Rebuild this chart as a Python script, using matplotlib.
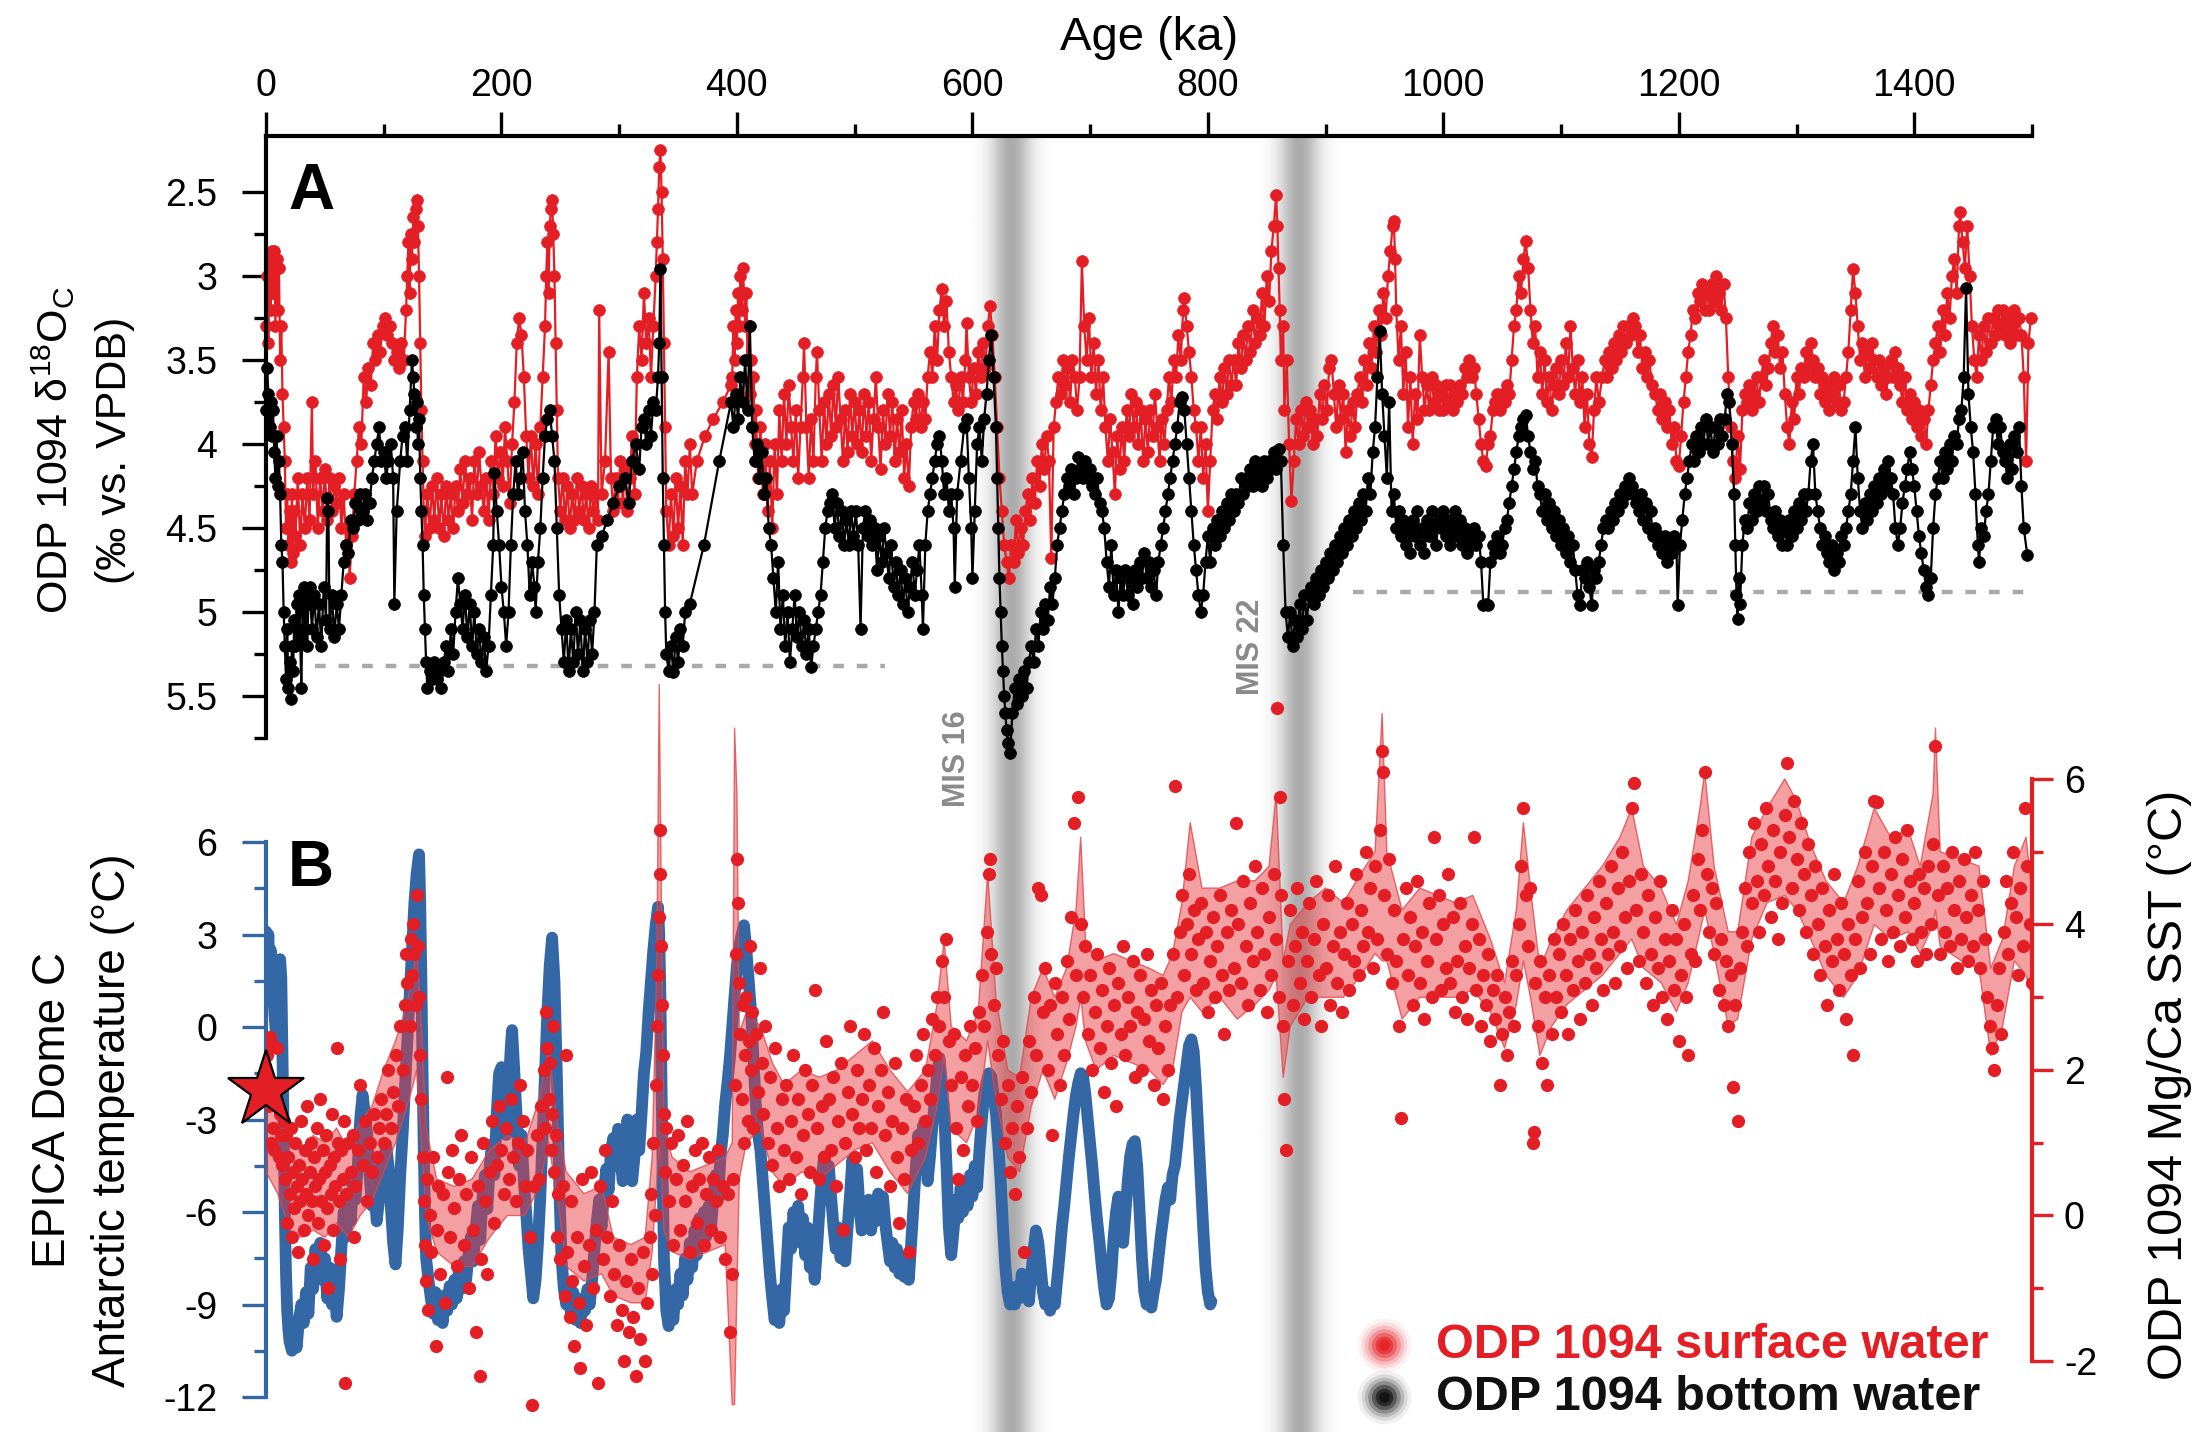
import matplotlib
matplotlib.use('Agg')
import matplotlib.pyplot as plt
import numpy as np

plt.rcParams['font.family'] = ['Liberation Sans', 'DejaVu Sans']
plt.rcParams['axes.unicode_minus'] = False
plt.rcParams['mathtext.fontset'] = 'custom'
plt.rcParams['mathtext.rm'] = 'Liberation Sans'
plt.rcParams['mathtext.it'] = 'Liberation Sans:italic'

# ---------------- DATA ----------------
# Panel A: ODP 1094 planktic (surface) d18O  (age ka, permil)
SURFACE_D18O = [
 (0,3.3),(1,3.0),(2,3.4),(3,2.9),(4,3.2),(5,2.85),(6,3.1),(7,2.85),(8,3.3),(9,2.9),(10,3.2),(11,2.95),(12,3.5),(13,3.3),(14,3.7),(15,3.9),
 (16,4.1),(17,4.5),(18,4.3),(19,4.6),(20,4.4),(21,4.7),(22,4.3),(23,4.65),(24,4.4),(25,4.55),
 (27,4.2),(29,4.6),(31,4.3),(33,4.5),(35,4.2),(37,4.45),(39,3.75),(40,4.3),(42,4.1),(44,4.5),(46,4.2),(48,4.4),(50,4.15),(52,4.45),(54,4.2),(56,4.4),(58,4.25),(60,4.35),(62,4.2),(64,4.5),(66,4.3),(68,4.6),(70,4.5),(71,4.8),
 (73,4.55),(75,4.3),(77,4.1),(79,3.9),(81,4.0),(83,3.6),(85,3.75),(87,3.55),(89,3.65),(91,3.4),(93,3.5),(95,3.35),(97,3.45),(99,3.3),(101,3.25),(103,3.35),(105,3.3),(107,3.4),(109,3.5),(111,3.45),(113,3.55),
 (115,3.4),(117,3.5),(119,3.2),(120,3.0),(121,2.8),(122,3.1),(123,2.75),(124,2.9),(125,2.65),(126,2.8),(127,2.6),(128,2.55),(129,2.7),(130,3.0),(131,3.4),(132,3.8),(133,4.1),(134,4.4),(135,4.55),
 (137,4.3),(139,4.5),(141,4.25),(143,4.45),(145,4.2),(147,4.5),(149,4.3),(151,4.55),(153,4.25),(155,4.45),(157,4.3),(159,4.5),(161,4.25),(163,4.4),(165,4.15),(167,4.35),(169,4.1),(171,4.3),(173,4.2),(175,4.45),(177,4.1),(179,4.3),(181,4.05),(183,4.25),(185,4.4),(187,4.2),(189,4.45),
 (191,4.1),(193,4.3),(195,3.95),(197,4.2),(199,4.05),(201,4.25),(203,3.9),(205,4.1),(207,4.35),(209,4.0),(211,3.75),(213,3.4),(215,3.25),(217,3.35),(219,3.6),
 (221,3.95),(223,4.2),(225,3.95),(227,4.25),(229,4.0),(231,4.3),(233,3.9),(235,3.6),(237,3.3),(238,3.0),(239,2.8),(240,3.1),(241,2.7),(242,2.6),(243,2.55),(244,2.75),(245,3.0),(246,3.4),(247,3.8),(248,4.2),
 (250,4.4),(252,4.2),(254,4.45),(256,4.25),(258,4.5),(260,4.3),(262,4.45),(264,4.2),(266,4.4),(268,4.25),(270,4.45),(272,4.3),(274,4.5),(276,4.25),(278,4.4),(280,4.3),(282,4.45),(283,3.2),(285,4.3),(288,4.1),(291,3.45),(293,4.2),
 (295,4.4),(297,4.2),(299,4.35),(301,4.1),(303,4.35),(305,4.15),(307,4.4),(309,4.2),(311,3.95),(313,4.3),(315,3.6),(317,3.3),(319,3.5),(321,3.1),(323,3.4),(325,3.25),(327,3.6),(329,3.3),(331,3.0),(332,2.8),
 (333,2.6),(334,2.35),(335,2.25),(336,2.5),(337,2.9),(338,3.4),(339,3.9),(340,4.4),(342,4.6),(344,4.3),(346,4.55),(348,4.2),(350,4.5),(352,4.25),(354,4.6),(356,4.1),(358,4.3),(360,4.0),(362,4.3),
 (366,4.1),(373,3.95),(380,3.85),(388,3.75),(395,3.65),
 (396,3.6),(397,3.3),(398,3.5),(399,3.2),(400,3.4),(401,3.1),(402,3.3),(403,3.0),(404,3.2),(405,2.95),(406,3.1),(407,3.3),(408,3.1),(409,3.5),(410,3.3),(411,3.7),(412,3.5),(413,3.9),(414,3.6),(415,4.0),(416,3.8),(418,4.2),(420,3.9),
 (422,4.3),(424,4.0),(426,4.4),(428,4.1),(430,4.5),(432,4.0),(434,4.3),(436,3.8),(438,4.1),(440,3.7),(442,4.0),(444,3.65),(446,3.9),(448,4.1),(450,3.8),(452,4.2),(454,3.9),(456,3.6),(457,3.4),(459,3.9),(461,4.2),(463,3.85),(465,4.1),(467,3.6),(468,3.45),(470,3.8),
 (472,4.1),(474,3.75),(476,4.0),(478,3.7),(480,3.95),(482,3.65),(484,3.9),(486,3.6),(488,3.85),(490,4.1),(492,3.8),(494,4.05),(496,3.7),(498,3.95),(500,3.75),(502,4.0),
 (504,3.8),(506,4.05),(508,3.7),(510,3.95),(512,3.75),(514,4.1),(516,3.85),(518,3.6),(520,3.9),(522,4.15),(524,3.8),(526,4.0),(528,3.7),(530,3.95),(532,3.75),(534,4.1),(536,3.85),(538,4.05),(540,3.8),(542,4.2),(544,4.0),(546,4.25),
 (548,3.9),(550,3.75),(552,3.85),(554,3.7),(556,3.9),(558,3.75),(560,3.85),
 (562,3.6),(564,3.45),(566,3.6),(568,3.3),(570,3.5),(572,3.2),(574,3.08),(576,3.3),(578,3.15),(580,3.45),(582,3.6),(584,3.75),
 (586,3.65),(588,3.8),(590,3.6),(592,3.75),(594,3.5),(595,3.28),(597,3.6),(599,3.75),
 (601,3.55),(603,3.7),(605,3.45),(607,3.6),(609,3.4),(611,3.55),(613,3.3),(615,3.18),(617,3.35),(619,3.6),
 (621,3.9),(623,4.2),(625,4.4),(627,4.6),(629,4.7),(631,4.8),(633,4.6),(635,4.7),(637,4.45),(639,4.65),(641,4.5),(643,4.6),(645,4.4),
 (647,4.3),(649,4.45),(651,4.2),(653,4.35),(655,4.1),(657,4.25),(659,4.0),(661,4.15),(663,3.95),(665,4.1),(667,4.68),(669,3.9),(671,3.75),
 (673,3.6),(675,3.7),(677,3.5),(679,3.65),(681,3.55),(683,3.75),(685,3.5),(687,3.6),(689,3.8),(691,3.6),(693,2.91),
 (695,3.3),(697,3.5),(699,3.25),(701,3.6),(703,3.4),(705,3.7),(707,3.5),(709,3.8),(711,3.6),
 (713,3.9),(715,4.1),(717,3.85),(719,4.05),(721,4.3),(723,3.95),(725,4.15),(727,3.9),(729,4.1),
 (731,3.8),(733,3.95),(735,3.7),(737,3.9),(739,3.75),(741,4.0),(743,3.8),(745,4.1),(747,3.85),(749,4.05),(751,3.8),(753,3.95),(755,3.7),(757,3.9),(759,4.1),(761,3.85),(763,4.0),(765,3.8),
 (767,3.6),(769,3.75),(771,3.5),(773,3.6),(775,3.35),(777,3.5),(779,3.2),(780,3.13),(782,3.3),(784,3.45),(786,3.6),(788,3.8),
 (790,3.9),(792,4.1),(794,3.9),(796,4.2),(798,4.0),(800,4.4),(802,4.1),
 (804,3.8),(806,3.7),(808,3.85),(810,3.6),(812,3.75),(814,3.55),(816,3.7),(818,3.5),(820,3.65),
 (822,3.5),(824,3.65),(826,3.4),(828,3.55),(830,3.35),(832,3.5),(834,3.3),(836,3.45),(838,3.2),(840,3.4),(842,3.25),(844,3.35),(846,3.1),(848,3.3),(850,3.0),(852,3.15),(854,2.85),(856,2.7),(858,2.52),
 (859,2.7),(860,2.95),(861,3.2),(862,3.5),(864,3.3),(865,3.8),(867,3.5),(869,4.0),(871,4.34),(873,4.1),
 (875,3.85),(877,4.0),(879,3.8),(881,3.95),(883,3.75),(885,3.9),(887,3.8),(889,4.0),(891,3.85),(893,3.95),(895,3.7),(897,3.85),(899,3.65),(901,3.8),(903,3.55),(905,3.5),
 (907,3.7),(909,3.9),(911,3.65),(913,3.85),(915,3.7),(917,4.05),(919,3.8),(921,3.95),(923,3.75),(925,3.9),(927,3.7),
 (929,3.6),(931,3.75),(933,3.5),(935,3.65),(937,3.4),(939,3.55),(941,3.3),(943,3.45),(945,3.2),(947,3.35),(949,3.1),(951,3.25),(953,3.0),(955,2.85),(957,2.7),(958,2.67),
 (959,2.9),(960,3.2),(962,3.5),(964,3.3),(966,3.7),(968,3.45),(970,3.9),(972,3.6),(974,4.0),(976,3.7),(978,3.85),(980,3.35),(982,3.6),(984,3.8),
 (986,3.65),(988,3.8),(990,3.6),(992,3.75),(994,3.65),(996,3.8),(998,3.7),(1000,3.8),(1002,3.65),(1004,3.75),(1006,3.65),(1008,3.8),(1010,3.7),(1012,3.75),(1014,3.65),(1016,3.7),
 (1018,3.55),(1020,3.6),(1022,3.5),(1024,3.6),(1026,3.55),(1028,3.7),(1030,3.85),(1032,4.0),(1034,4.1),(1036,4.13),(1038,4.0),(1040,3.95),(1042,3.8),
 (1044,3.75),(1046,3.7),(1048,3.8),(1050,3.7),(1052,3.75),(1054,3.65),(1056,3.7),(1058,3.5),(1060,3.3),(1062,3.2),(1064,3.0),(1066,3.1),(1068,2.9),(1070,2.79),(1072,2.95),(1074,3.2),
 (1076,3.4),(1078,3.3),(1080,3.6),(1082,3.45),(1084,3.7),(1086,3.5),(1088,3.75),(1090,3.6),(1092,3.8),(1094,3.65),
 (1096,3.55),(1098,3.7),(1100,3.5),(1102,3.65),(1104,3.4),(1106,3.6),(1108,3.3),(1110,3.55),(1112,3.7),(1114,3.5),(1116,3.75),(1118,3.6),(1120,3.9),(1122,3.7),(1124,4.0),(1126,4.08),(1128,3.8),(1130,3.6),(1132,3.75),
 (1135,3.6),(1137,3.5),(1139,3.6),(1141,3.45),(1143,3.55),(1145,3.4),(1147,3.5),(1149,3.35),(1151,3.45),(1153,3.3),(1155,3.4),(1157,3.3),(1159,3.35),(1161,3.25),(1163,3.3),(1165,3.45),(1167,3.35),(1169,3.55),(1171,3.45),(1173,3.6),(1175,3.5),(1177,3.65),
 (1180,3.7),(1182,3.8),(1184,3.7),(1186,3.85),(1188,3.75),(1190,3.9),(1192,3.8),(1194,4.0),(1196,3.9),(1198,4.1),(1200,4.13),(1202,3.95),(1204,3.75),
 (1206,3.6),(1208,3.45),(1210,3.35),(1212,3.2),(1214,3.25),(1216,3.1),(1218,3.15),(1220,3.05),(1222,3.2),(1224,3.1),(1226,3.2),(1228,3.05),(1230,3.15),(1232,3.0),(1234,3.1),(1236,3.2),(1238,3.05),(1240,3.25),(1242,3.6),
 (1244,3.9),(1246,4.1),(1248,4.2),(1250,3.95),(1252,4.15),(1254,3.8),(1256,3.7),
 (1258,3.75),(1260,3.65),(1262,3.8),(1264,3.7),(1266,3.6),(1268,3.75),(1270,3.6),(1272,3.5),(1274,3.65),(1276,3.55),(1278,3.4),(1280,3.3),(1282,3.45),(1284,3.35),(1286,3.55),(1288,3.45),(1290,3.7),(1292,3.9),(1294,4.0),(1296,3.75),(1298,3.85),
 (1300,3.6),(1302,3.7),(1304,3.55),(1306,3.6),(1308,3.45),(1310,3.55),(1312,3.4),(1314,3.5),(1316,3.6),(1318,3.55),(1320,3.7),(1322,3.6),(1324,3.75),(1326,3.65),(1328,3.8),(1330,3.7),(1332,3.6),(1334,3.75),(1336,3.65),(1338,3.8),(1340,3.75),(1342,3.6),(1344,3.45),(1346,3.2),(1348,2.96),
 (1350,3.1),(1352,3.3),(1354,3.5),(1356,3.4),(1358,3.6),(1360,3.45),(1362,3.55),(1364,3.4),(1366,3.5),(1368,3.6),(1370,3.5),(1372,3.65),(1374,3.55),(1376,3.7),(1378,3.6),
 (1380,3.5),(1382,3.6),(1384,3.45),(1386,3.55),(1388,3.65),(1390,3.75),(1392,3.6),(1394,3.8),(1396,3.7),(1398,3.85),(1400,3.75),(1402,3.9),(1404,3.8),(1406,3.95),(1408,3.85),(1410,4.0),(1412,3.8),(1414,3.65),(1416,3.5),
 (1418,3.4),(1420,3.3),(1422,3.45),(1424,3.2),(1426,3.35),(1428,3.1),(1430,3.25),(1432,3.0),(1434,2.9),(1436,3.1),(1438,2.7),(1439,2.62),(1441,2.8),(1443,2.95),(1445,2.7),(1447,3.0),
 (1449,3.3),(1451,3.5),(1453,3.6),(1455,3.35),(1457,3.5),(1459,3.3),(1461,3.45),(1463,3.25),(1465,3.4),(1467,3.25),(1469,3.35),(1471,3.2),(1473,3.3),(1475,3.2),(1477,3.35),(1479,3.25),(1481,3.4),(1483,3.3),(1485,3.2),(1487,3.35),(1489,3.25),(1491,3.35),(1493,3.6),(1495,4.1),(1497,3.4),(1499,3.25),
]

# Panel A: ODP 1094 benthic (bottom water) d18O
BOTTOM_D18O = [
 (0,3.8),(1,3.55),(2,3.7),(3,3.9),(4,3.75),(5,3.95),(6,3.8),(7,4.05),
 (8,4.2),(9,3.95),(10,4.25),(11,4.1),(12,4.3),(13,4.6),
 (14,4.7),(15,5.0),(16,5.2),(17,5.4),(18,5.1),(19,5.45),(20,5.3),(21,5.52),(22,5.2),(23,5.35),(24,5.05),
 (25,5.2),(26,4.95),(27,5.1),(28,4.9),(29,5.15),(30,5.45),(31,5.0),(32,4.85),(33,5.1),(34,4.9),(35,5.2),(36,4.95),
 (37,4.85),(39,5.1),(41,4.9),(43,5.15),(45,4.95),(47,5.2),(49,4.85),(51,5.05),(52,4.32),(53,4.4),(54,5.1),(56,4.9),(58,5.15),(60,4.95),(62,5.1),(64,4.9),(66,4.7),
 (68,4.6),(70,4.65),(72,4.45),(74,4.5),(76,4.35),(78,4.45),(80,4.3),(82,4.4),(84,4.3),(86,4.45),(88,4.35),(90,4.2),(92,4.1),(94,4.0),(96,3.9),
 (98,4.1),(100,4.05),(102,4.2),(104,4.1),(106,4.0),(108,4.2),(109,4.95),(111,4.4),
 (114,4.1),(116,3.95),(118,3.9),(120,4.1),(122,3.8),(124,3.5),(125,3.6),(126,3.7),(127,3.9),(128,3.75),(129,4.0),(130,3.85),(131,4.2),(132,4.4),
 (133,4.6),(134,4.9),(135,5.1),(136,5.3),(137,5.45),(139,5.35),(141,5.4),(143,5.3),(145,5.4),(147,5.35),(149,5.45),(151,5.3),
 (153,5.2),(155,5.35),(157,5.1),(159,5.25),(161,5.0),(163,4.8),(165,4.95),(167,5.1),(169,4.9),(171,5.15),(173,4.95),(175,5.2),(177,5.0),(179,5.25),(181,5.1),(183,5.3),(185,5.15),(187,5.35),(189,5.2),
 (191,4.9),(193,4.6),(194,4.17),(196,4.4),(198,4.6),(200,4.85),(202,5.0),(204,5.2),(206,5.0),
 (208,4.6),(210,4.3),(212,4.1),(214,4.3),(216,4.2),(218,4.05),(220,4.4),(222,4.6),
 (224,4.9),(226,4.7),(228,4.85),(229,5.0),(231,4.7),(233,4.5),(235,4.2),
 (237,3.95),(239,3.85),(241,3.8),(243,3.95),(245,4.1),(247,4.5),
 (249,4.9),(251,5.1),(253,5.3),(255,5.05),(257,5.35),(259,5.1),(261,5.3),(263,5.0),(265,5.25),(267,5.05),(269,5.35),(271,5.1),(273,5.3),(275,5.05),(277,5.25),(279,5.0),
 (281,4.6),(285,4.55),(290,4.45),(295,4.35),(300,4.25),(305,4.2),(308,4.35),(311,4.1),(314,4.0),(317,4.15),
 (319,3.9),(321,3.85),(323,4.0),(325,3.8),(327,3.95),(329,3.75),(331,3.8),(333,3.6),(334,3.4),(335,2.96),(336,3.6),
 (337,4.2),(338,4.6),(339,5.0),(340,5.25),(342,5.35),(344,5.2),(346,5.36),(348,5.15),(350,5.3),(352,5.1),(354,5.2),(356,5.0),
 (360,4.95),(372,4.6),(385,4.1),(395,3.75),
 (397,3.9),(399,3.7),(401,3.85),(403,3.6),(405,3.75),(407,3.5),(409,3.8),(411,3.3),(413,3.9),
 (415,4.1),(417,4.0),(419,4.2),(421,4.05),(423,4.3),(425,4.2),(427,4.5),
 (429,4.6),(431,4.8),(433,5.0),(435,4.7),(437,5.1),(439,4.9),(441,5.2),(443,5.0),(445,5.3),(447,5.1),
 (449,4.9),(451,5.15),(453,5.0),(455,5.2),(457,5.05),(459,5.25),(461,5.1),(463,5.33),(465,5.2),(467,5.1),(469,5.0),(471,4.9),(473,4.7),(475,4.5),(477,4.4),(479,4.35),
 (481,4.3),(483,4.5),(485,4.35),(487,4.55),(489,4.4),(491,4.6),(493,4.45),(495,4.6),(497,4.4),(499,4.55),(501,4.4),(503,4.6),(505,5.1),(507,4.5),(509,4.4),(511,4.55),
 (513,4.45),(515,4.6),(517,4.5),(519,4.75),(521,4.55),(523,4.7),(525,4.5),(527,4.65),(529,4.8),(531,4.6),(533,4.85),(535,4.7),(537,4.9),(539,4.75),(541,4.95),(543,4.8),(545,5.0),(547,4.85),(549,4.7),(551,4.9),(553,4.75),(555,4.6),(557,4.9),(558,5.1),
 (560,4.6),(562,4.4),(564,4.3),(566,4.2),(568,4.1),(570,4.0),(572,3.95),(574,4.1),(576,4.3),(578,4.2),(580,4.4),(582,4.3),(584,4.5),(585,4.85),
 (587,4.3),(590,4.1),(593,3.9),(595,3.85),(597,4.2),(599,4.5),(600,4.8),(602,4.4),(604,4.0),(606,3.9),(608,4.1),(610,3.85),(612,3.7),(614,3.5),(616,3.35),(618,3.6),
 (620,3.9),(621,4.2),(622,4.5),(623,4.8),(624,5.0),(625,5.2),(626,5.35),(627,5.5),(628,5.6),(629,5.7),(630,5.78),(632,5.84),
 (634,5.6),(636,5.45),(638,5.55),(640,5.4),(642,5.5),(644,5.35),(646,5.45),(648,5.3),
 (650,5.2),(652,5.3),(654,5.1),(656,5.2),(658,5.0),(660,5.1),(662,4.95),(664,5.05),(666,4.85),(668,4.95),(670,4.8),
 (672,4.6),(674,4.5),(676,4.4),(678,4.3),(680,4.2),(682,4.25),(684,4.15),(686,4.3),(688,4.2),(690,4.08),
 (692,4.15),(694,4.2),(696,4.1),(698,4.2),(700,4.15),(702,4.25),(704,4.3),(706,4.2),(708,4.35),(710,4.4),
 (712,4.5),(714,4.7),(716,4.85),(718,4.6),(720,4.9),(722,4.75),(724,5.0),(726,4.8),(728,4.9),(730,4.75),(732,4.9),(734,4.8),(736,4.95),(738,4.75),(740,4.85),(742,4.7),(744,4.8),(746,4.65),(748,4.8),(750,4.7),(752,4.85),(754,4.75),(756,4.9),(758,4.7),(760,4.6),(762,4.5),
 (764,4.4),(766,4.3),(768,4.2),(770,4.1),(772,4.0),(774,3.9),(776,3.75),(778,3.72),(780,3.8),(782,4.0),(784,4.2),(786,4.4),(788,4.6),(790,4.75),(792,4.9),(794,5.0),(796,4.9),
 (798,4.7),(800,4.55),(802,4.7),(804,4.5),(806,4.6),(808,4.45),(810,4.55),(812,4.4),(814,4.5),(816,4.35),(818,4.45),(820,4.3),
 (822,4.4),(824,4.3),(826,4.35),(828,4.2),(830,4.3),(832,4.2),(834,4.25),(836,4.15),(838,4.25),(840,4.1),(842,4.2),(844,4.15),(846,4.25),(848,4.1),(850,4.2),(852,4.1),(854,4.15),(856,4.05),(858,4.15),(860,4.03),(862,4.1),(864,4.6),(866,5.0),
 (868,5.15),(870,5.0),(872,5.2),(874,5.05),(876,5.15),(878,4.95),(880,5.1),(882,4.9),(884,5.05),(886,4.9),
 (888,4.85),(890,4.95),(892,4.8),(894,4.9),(896,4.75),(898,4.85),(900,4.7),(902,4.8),(904,4.65),(906,4.75),(908,4.6),(910,4.7),(912,4.55),(914,4.65),(916,4.5),(918,4.6),
 (920,4.45),(922,4.55),(924,4.4),(926,4.5),(928,4.35),(930,4.45),(932,4.3),(934,4.4),(936,4.2),(938,4.3),(940,4.05),(942,3.9),(944,3.6),(946,3.33),(948,3.7),(950,3.95),(952,4.2),(954,3.75),(956,4.4),(958,4.3),(960,4.5),(962,4.4),
 (964,4.55),(966,4.45),(968,4.6),(970,4.5),(972,4.65),(974,4.45),(976,4.55),(978,4.4),(980,4.6),(982,4.5),(984,4.65),(986,4.45),(988,4.55),(990,4.4),(992,4.5),(994,4.6),(996,4.45),
 (998,4.5),(1000,4.4),(1002,4.55),(1004,4.45),(1006,4.6),(1008,4.5),(1010,4.4),(1012,4.55),(1014,4.45),(1016,4.6),(1018,4.5),(1020,4.65),(1022,4.55),(1024,4.6),(1026,4.5),(1028,4.6),(1030,4.55),(1032,4.7),
 (1034,4.96),(1036,4.95),(1038,4.96),(1040,4.7),(1042,4.6),(1044,4.65),(1046,4.55),(1048,4.65),(1050,4.6),(1052,4.5),(1054,4.45),
 (1056,4.35),(1058,4.25),(1060,4.15),(1062,4.05),(1064,3.95),(1066,3.9),(1068,3.85),(1070,3.83),(1072,3.95),(1074,4.05),(1076,4.15),(1078,4.1),(1080,4.25),
 (1082,4.3),(1084,4.4),(1086,4.3),(1088,4.45),(1090,4.35),(1092,4.5),(1094,4.4),(1096,4.55),(1098,4.45),(1100,4.6),(1102,4.5),(1104,4.65),(1106,4.55),(1108,4.7),(1110,4.6),(1112,4.75),(1114,4.9),(1116,4.96),
 (1118,4.75),(1120,4.8),(1122,4.7),(1124,4.85),(1126,4.96),(1128,4.75),(1130,4.8),(1132,4.7),(1134,4.6),(1136,4.5),
 (1138,4.45),(1140,4.5),(1142,4.4),(1144,4.45),(1146,4.35),(1148,4.4),(1150,4.3),(1152,4.35),(1154,4.25),(1156,4.3),(1158,4.2),(1160,4.25),(1162,4.3),(1164,4.35),(1166,4.4),(1168,4.3),(1170,4.45),(1172,4.35),(1174,4.5),(1176,4.4),(1178,4.55),
 (1180,4.5),(1182,4.6),(1184,4.55),(1186,4.65),(1188,4.55),(1190,4.7),(1192,4.6),(1194,4.65),(1196,4.55),(1198,4.6),(1199,4.96),(1201,4.6),(1203,4.45),
 (1205,4.3),(1207,4.2),(1209,4.1),(1211,4.0),(1213,4.1),(1215,3.95),(1217,4.05),(1219,3.9),(1221,4.0),(1223,3.85),(1225,4.0),(1227,3.9),(1229,4.05),(1231,3.9),(1233,4.0),(1235,3.85),(1237,3.95),(1239,3.85),(1241,3.7),(1243,3.75),
 (1245,4.0),(1247,4.3),(1248,4.6),(1249,4.9),(1250,5.04),(1251,4.8),(1252,4.95),(1254,4.6),(1256,4.45),
 (1258,4.5),(1260,4.35),(1262,4.45),(1264,4.3),(1266,4.4),(1268,4.25),(1270,4.35),(1272,4.25),(1274,4.4),(1276,4.3),(1278,4.45),(1280,4.5),(1282,4.4),(1284,4.55),(1286,4.45),(1288,4.6),(1290,4.5),(1292,4.6),(1294,4.45),(1296,4.55),(1298,4.4),(1300,4.5),(1302,4.35),(1304,4.45),(1306,4.3),(1308,4.4),(1310,4.3),(1312,4.1),(1314,4.0),(1316,4.3),
 (1318,4.4),(1320,4.5),(1322,4.6),(1324,4.55),(1326,4.65),(1328,4.7),(1330,4.6),(1332,4.75),(1334,4.65),(1336,4.7),(1338,4.55),(1340,4.6),(1342,4.5),(1344,4.4),(1346,4.3),
 (1348,4.1),(1350,3.9),(1352,4.2),(1354,4.4),(1356,4.5),(1358,4.35),(1360,4.45),(1362,4.3),(1364,4.4),(1366,4.25),(1368,4.35),(1370,4.2),(1372,4.3),(1374,4.15),(1376,4.25),(1378,4.1),(1380,4.2),(1382,4.3),(1384,4.5),(1386,4.6),
 (1388,4.5),(1390,4.35),(1392,4.25),(1394,4.15),(1396,4.05),(1398,4.15),(1400,4.25),(1402,4.4),(1404,4.55),(1406,4.65),(1408,4.75),(1410,4.85),(1412,4.9),(1414,4.8),(1416,4.5),
 (1418,4.3),(1420,4.2),(1422,4.1),(1424,4.2),(1426,4.05),(1428,4.15),(1430,4.0),(1432,4.1),(1434,3.95),(1436,4.0),(1438,3.85),(1440,3.8),(1442,3.6),(1444,3.07),(1446,3.7),(1448,3.9),(1450,4.05),(1452,4.3),
 (1454,4.6),(1455,4.7),(1457,4.5),(1459,4.55),(1461,4.4),(1463,4.3),(1465,4.1),(1467,3.9),(1469,3.85),(1471,4.0),(1473,3.9),(1475,4.05),(1477,4.1),(1479,4.2),(1481,4.0),(1483,4.15),(1485,3.95),(1487,4.05),(1489,3.9),(1491,4.25),(1493,4.5),(1496,4.66),
]

# Panel B: EPICA Dome C Antarctic temperature anomaly (deg C)
EPICA_T = [
 (0,3.1),(1,2.2),(2,3.0),(3,1.5),(4,2.5),(5,0.8),(6,1.8),(7,0.5),(8,0.0),(9,-0.5),(10,0.4),(11,1.5),(12,2.2),(13,1.6),(14,-1.0),(15,-3.5),(16,-6.0),(17,-8.0),(18,-9.2),(19,-9.8),(20,-10.2),(22,-10.5),(24,-9.9),(26,-10.4),(28,-9.5),(30,-9.0),(32,-9.6),(34,-8.6),(36,-9.3),(38,-7.8),(40,-8.5),(42,-7.2),(44,-8.0),(46,-7.0),(48,-8.2),(50,-7.5),(52,-8.8),(54,-7.8),(56,-9.0),(58,-8.3),(60,-9.4),(62,-8.5),(64,-7.2),(66,-6.0),(68,-6.8),(70,-5.6),(72,-6.3),(74,-5.0),(76,-5.6),(78,-4.5),(80,-3.0),(82,-2.2),(84,-2.8),(86,-3.5),(88,-4.8),(90,-5.8),(92,-5.2),(94,-6.3),(96,-5.6),(98,-4.2),(100,-4.8),(102,-3.8),(104,-4.5),(106,-5.8),(108,-7.0),(110,-7.7),(112,-6.5),(114,-4.8),(116,-3.5),(118,-2.0),(120,-0.5),(122,1.0),(124,2.5),(126,4.0),(128,5.0),(130,5.6),(131,4.0),(132,1.5),(133,-1.5),(134,-4.0),(135,-6.0),(136,-7.5),(138,-8.2),(140,-8.8),(142,-9.3),(144,-8.6),(146,-9.5),(148,-8.9),(150,-9.6),(152,-8.7),(154,-9.2),(156,-8.4),(158,-9.0),(160,-8.2),(162,-8.8),(164,-7.8),(166,-8.5),(168,-7.6),(170,-8.2),(172,-7.4),(174,-6.8),(176,-7.6),(178,-6.6),(180,-5.8),(182,-6.9),(184,-5.5),(186,-4.8),(188,-5.9),(190,-4.5),(192,-3.8),(194,-4.8),(196,-2.8),(198,-1.5),(200,-1.3),(202,-2.2),(204,-3.5),(206,-2.0),(208,-0.6),(209,-0.1),(211,-1.5),(213,-3.0),(215,-4.5),(217,-3.5),(219,-5.0),(221,-6.0),(223,-7.2),(225,-8.0),(227,-8.8),(229,-8.2),(231,-7.0),(233,-5.5),(235,-3.5),(237,-1.5),(239,0.5),(241,2.0),(243,2.9),(245,1.5),(247,-1.5),(249,-5.0),(251,-7.5),(253,-8.5),(255,-9.0),(257,-8.4),(259,-9.3),(261,-8.6),(263,-9.5),(265,-8.8),(267,-9.6),(269,-8.9),(271,-9.2),(273,-8.5),(275,-9.0),(277,-8.2),(279,-7.2),(281,-6.3),(283,-5.6),(285,-6.5),(287,-5.4),(289,-4.6),(291,-5.3),(293,-4.0),(295,-3.6),(297,-4.5),(299,-3.3),(301,-4.2),(303,-5.0),(305,-4.0),(307,-3.0),(309,-3.8),(311,-5.0),(313,-4.2),(315,-3.0),(317,-4.0),(319,-2.8),(321,-1.5),(323,-0.8),(325,0.5),(327,1.5),(329,2.5),(331,3.3),(333,3.9),(334,3.0),(335,1.0),(336,-2.0),(337,-5.0),(338,-7.5),(340,-9.2),(342,-9.7),(344,-8.8),(346,-9.5),(348,-8.5),(350,-9.0),(352,-8.0),(354,-8.7),(356,-7.5),(358,-8.2),(360,-7.0),(362,-7.8),(364,-6.6),(366,-7.4),(368,-6.2),(370,-7.0),(372,-6.0),(374,-6.8),(376,-5.8),(378,-6.5),(380,-5.5),(382,-4.8),(384,-5.6),(386,-4.2),(388,-3.5),(390,-2.5),(392,-1.8),(394,-1.0),(396,0.0),(398,1.0),(400,2.0),(402,2.6),(404,3.0),(406,3.3),(408,2.5),(410,1.5),(412,0.5),(414,-1.0),(416,-2.5),(418,-3.5),(420,-4.0),(422,-5.0),(424,-6.0),(426,-7.0),(428,-8.0),(430,-8.8),(432,-9.5),(434,-8.8),(436,-9.6),(438,-8.5),(440,-9.2),(442,-7.8),(444,-6.5),(446,-7.2),(448,-6.0),(450,-6.8),(452,-5.8),(454,-7.0),(456,-6.2),(458,-7.4),(460,-6.5),(462,-7.8),(464,-7.0),(466,-8.2),(468,-7.2),(470,-6.0),(472,-5.0),(474,-4.2),(476,-5.0),(478,-4.5),(480,-5.5),(482,-6.5),(484,-7.2),(486,-6.5),(488,-7.5),(490,-6.8),(492,-7.6),(494,-6.5),(496,-5.5),(498,-4.3),(500,-5.0),(502,-4.6),(504,-5.8),(506,-6.6),(508,-5.8),(510,-6.4),(512,-5.6),(514,-6.6),(516,-5.8),(518,-6.3),(520,-5.4),(522,-6.2),(524,-5.5),(526,-6.4),(528,-7.0),(530,-7.6),(532,-7.0),(534,-7.8),(536,-7.2),(538,-8.0),(540,-7.5),(542,-8.1),(544,-7.6),(546,-8.2),(548,-7.0),(550,-5.8),(552,-4.5),(554,-3.5),(556,-4.2),(558,-3.2),(560,-4.0),(562,-5.0),(564,-4.2),(566,-3.2),(568,-2.4),(570,-1.6),(572,-1.0),(574,-1.8),(576,-2.8),(578,-4.5),(580,-6.5),(582,-7.4),(584,-6.6),(586,-5.6),(588,-6.2),(590,-5.2),(592,-6.0),(594,-5.0),(596,-5.8),(598,-4.8),(600,-5.5),(602,-4.5),(604,-5.2),(606,-4.0),(608,-3.0),(610,-2.2),(612,-1.8),(614,-1.5),(616,-1.6),(618,-2.2),(620,-2.8),(622,-3.8),(624,-5.0),(626,-6.5),(628,-7.8),(630,-8.6),(632,-9.0),(634,-8.7),(636,-9.0),(638,-8.4),(640,-8.8),(642,-8.0),(644,-8.6),(646,-8.2),(648,-8.9),(650,-8.0),(652,-7.2),(654,-6.6),(656,-7.0),(658,-7.8),(660,-8.6),(662,-9.0),(664,-8.6),(666,-9.2),(668,-8.7),(670,-9.0),(672,-8.2),(674,-7.4),(676,-6.5),(678,-5.8),(680,-5.0),(682,-4.2),(684,-3.5),(686,-2.8),(688,-2.2),(690,-1.8),(692,-1.5),(694,-1.6),(696,-2.2),(698,-3.0),(700,-3.8),(702,-4.6),(704,-5.5),(706,-6.3),(708,-7.0),(710,-7.8),(712,-8.5),(714,-9.0),(716,-8.8),(718,-8.0),(720,-6.8),(722,-6.0),(724,-5.5),(726,-6.2),(728,-7.0),(730,-6.0),(732,-5.0),(734,-4.2),(736,-3.8),(738,-3.7),(740,-4.5),(742,-6.0),(744,-7.5),(746,-8.6),(748,-9.0),(750,-8.8),(752,-9.1),(754,-8.6),(756,-8.2),(758,-7.5),(760,-6.8),(762,-6.2),(764,-5.6),(766,-5.2),(768,-5.6),(770,-4.8),(772,-4.5),(774,-3.8),(776,-3.0),(778,-2.4),(780,-1.8),(782,-1.2),(784,-0.6),(786,-0.4),(788,-0.8),(790,-2.0),(792,-3.5),(794,-5.0),(796,-6.5),(798,-7.8),(800,-8.6),(802,-9.0),(803,-8.9),
]

# Panel B: ODP 1094 Mg/Ca SST (deg C), individual samples
SST_POINTS = [
 (1,2.2),(2,1.5),(3,2.45),(4,1.0),(5,2.35),(6,1.2),(7,0.9),(8,1.6),(9,2.3),(10,1.8),(11,0.8),(12,1.4),(13,1.1),(14,0.7),(15,1.3),
 (16,0.5),(17,1.1),(18,-0.1),(19,0.8),(20,0.3),(21,1.2),(22,-0.3),(23,0.6),(24,0.1),(25,1.0),(26,0.4),(27,-0.5),(28,0.7),(29,0.2),(30,1.3),(31,0.5),(32,-0.2),(33,0.9),(34,0.3),(35,1.5),(36,0.0),(37,0.6),(38,1.0),(39,0.2),(40,-0.6),(41,0.8),(42,0.4),(43,1.2),(44,-0.1),(45,0.5),(46,1.6),(47,0.2),(48,0.9),(49,-0.4),(50,0.6),(51,1.1),(52,0.1),(53,-1.0),(54,0.7),(55,0.3),(56,1.4),(57,-0.2),(58,0.8),(59,0.4),(60,2.3),(61,1.0),(62,0.2),(63,-0.6),(64,0.9),(65,0.5),(66,1.3),(67,-2.3),(68,0.3),(70,1.0),
 (72,0.6),(74,1.1),(75,-0.3),(76,0.4),(78,0.9),(80,1.8),(82,0.7),(84,1.3),(86,0.2),(88,1.0),(90,0.6),(92,1.4),(94,0.8),(96,1.2),(98,1.6),(100,1.0),(102,1.4),(104,2.0),(106,1.2),(108,1.7),(110,2.2),(112,1.5),(114,2.6),
 (116,2.0),(118,2.9),(119,3.6),(120,3.2),(122,2.6),(123,3.8),(124,3.3),(125,4.0),(126,3.6),(127,2.9),(128,4.4),(129,3.7),(130,3.0),(131,2.2),
 (132,1.6),(133,0.8),(134,0.2),(135,-0.4),(136,-0.9),(137,0.5),(138,-1.3),(139,0.0),(140,-0.5),(142,0.8),(144,-1.8),(145,-0.2),(146,0.4),(148,-0.8),(150,0.3),(152,-1.2),(154,1.9),(155,0.6),(156,-0.3),(158,0.9),(160,0.1),
 (162,-0.7),(164,0.5),(166,1.1),(168,-0.4),(170,0.3),(172,-1.0),(174,0.8),(176,-0.2),(178,-1.6),(180,0.4),(182,-2.2),(183,-0.6),(184,1.0),(186,0.2),(188,-0.8),(190,0.6),(192,1.3),(194,-0.1),(196,0.7),(198,1.5),(200,0.9),(202,0.3),
 (204,1.2),(206,0.5),(208,1.6),(210,0.8),(212,0.2),(214,1.0),(216,1.8),(218,1.3),(220,0.4),(222,0.9),(224,-0.3),(226,-2.6),(228,0.4),
 (230,1.1),(232,0.5),(234,1.5),(236,2.0),(237,1.2),(238,2.8),(239,2.3),(240,1.6),(241,2.1),(242,0.9),(243,1.4),(244,2.6),(245,0.6),(246,1.1),(247,-0.3),(248,0.3),
 (250,-0.6),(252,0.4),(254,-1.1),(255,2.2),(256,-0.5),(258,-1.4),(259,0.2),(260,-0.9),(262,-1.8),(264,-0.3),(266,-1.2),(267,-2.1),(268,0.5),(270,-0.7),(272,-1.5),(274,-0.4),(276,0.6),(278,-1.0),(280,-0.2),(282,-2.3),(284,0.4),(286,-0.6),(288,0.9),
 (290,-0.3),(292,-1.1),(294,0.2),(296,-0.8),(298,-1.5),(300,-0.4),(302,-1.3),(304,-2.0),(306,-0.9),(308,-1.6),(310,-0.6),(312,-1.4),(314,-2.2),(316,-1.0),(318,-1.7),(320,-0.5),(322,-2.0),(324,-1.2),(326,-0.3),
 (327,0.3),(328,-0.8),(329,1.0),(330,0.0),(331,1.8),(332,2.6),(333,3.3),(334,4.1),(334.5,5.3),(335,4.7),(335.5,3.7),(336,2.9),(337,2.2),(338,1.4),(339,0.6),(340,1.2),
 (342,0.2),(344,1.0),(346,-0.4),(348,0.5),(350,1.1),(352,-0.2),(354,0.7),(356,0.2),(358,1.3),(360,-0.5),(362,0.4),(364,0.9),(366,-0.1),(368,0.5),(370,1.0),(372,-0.4),(374,0.3),(376,0.8),(378,-0.2),(380,0.5),(382,0.2),(384,0.9),(386,-0.3),(388,0.4),(390,-0.6),(392,0.3),(394,-1.6),
 (396,-0.8),(397,0.5),(398,1.8),(399,3.6),(400,4.9),(401,4.3),(402,3.2),(403,2.5),(404,1.6),(405,2.9),(406,1.0),(407,2.2),(408,3.0),(409,1.3),(410,2.4),
 (411,3.7),(412,2.0),(413,2.8),(414,1.2),(416,2.5),(418,1.7),(420,3.4),(421,2.1),(422,1.4),(424,2.6),(426,1.0),(428,1.9),(430,0.7),(432,2.3),(434,1.2),(436,0.4),(438,1.6),(440,0.9),
 (442,1.8),(444,0.5),(446,1.3),(448,2.2),(450,0.8),(452,1.6),(454,0.3),(456,1.1),(458,2.0),(460,1.4),(462,0.6),(464,1.8),(466,3.1),(468,1.2),(470,0.5),(472,1.5),(474,0.8),(476,2.4),(478,1.6),(480,0.9),(482,1.9),(484,0.4),(486,1.3),(488,2.1),(490,-0.2),(492,1.0),(494,1.7),(496,2.6),(498,1.4),(500,0.8),(502,2.0),(504,1.2),
 (506,1.6),(508,2.5),(510,0.9),(512,1.8),(514,1.2),(516,2.3),(518,0.6),(520,1.5),(522,2.0),(524,2.8),(526,1.1),(528,1.7),(530,0.4),(532,1.3),(534,2.1),(536,0.8),(538,-0.1),(540,1.2),(542,0.5),(544,1.6),(546,-0.5),(548,0.9),(550,1.5),(552,2.2),(554,1.0),(556,1.8),(558,2.5),(560,1.3),(562,2.0),(564,1.6),(566,2.7),(568,2.2),(570,3.0),(572,2.6),(574,3.5),(576,3.0),(578,3.8),(580,2.4),(582,1.8),(584,2.5),(586,1.2),(588,0.5),(590,1.9),(592,0.9),(594,2.2),(596,1.5),(598,2.6),(600,1.8),(602,2.3),(604,1.3),(606,2.8),(608,3.3),(610,2.6),(612,3.9),(614,4.7),(615,4.9),(616,3.6),(618,2.9),(620,3.4),(622,2.2),(624,1.6),(626,2.4),(628,1.0),(630,1.8),(632,0.6),(634,1.2),(636,0.3),(638,1.5),(640,0.8),(642,1.9),(644,-0.5),(646,1.2),(648,2.4),(650,1.7),(652,3.0),(654,2.2),(656,4.5),(658,4.4),(660,2.8),(662,3.4),(664,2.0),(666,2.9),(668,1.1),(670,3.2),(672,2.5),(674,1.8),(676,3.0),(678,2.2),(680,3.5),(682,2.7),(684,4.1),(686,5.4),(688,3.3),(690,5.75),(692,4.0),(694,3.0),(696,3.7),(698,2.5),(700,3.3),(702,2.0),(704,2.8),(706,3.6),(708,2.3),(710,3.1),(712,1.7),(714,2.6),(716,3.4),(718,2.1),(720,2.9),(722,1.5),(724,3.2),(726,2.5),(728,3.7),(730,2.2),(732,3.0),(734,2.6),(736,3.5),(738,1.9),(740,2.8),(742,3.3),(744,2.0),(746,2.7),(748,3.6),(750,2.4),(752,3.1),(754,1.8),(756,2.9),(758,2.3),(760,3.2),(762,1.6),(764,2.6),(766,2.0),(768,2.9),(770,3.6),(772,5.9),(774,3.0),(776,3.9),(778,4.4),(780,3.3),(782,4.0),(784,4.7),(786,3.6),(788,4.2),(790,3.1),(792,3.8),(794,4.3),(796,3.2),(798,3.9),(800,2.8),(802,3.5),(804,4.1),(806,3.0),(808,3.7),(810,4.4),(812,3.3),(814,2.5),(816,3.9),(818,3.1),(820,4.2),(822,3.4),(824,5.4),(826,4.0),(828,3.2),(830,4.6),(832,3.7),(834,2.9),(836,4.3),(838,3.5),(840,4.8),(842,3.9),(844,3.1),(846,4.5),(848,3.6),(850,2.8),(852,4.1),(854,3.3),(856,4.7),(858,3.8),(859,6.97),(860,3.0),(861,5.75),(862,4.4),(864,2.6),(865,1.6),(866,0.9),(868,3.5),(870,4.2),(872,2.9),(874,3.7),(876,4.5),(878,3.2),(880,3.9),(882,2.7),(884,3.5),(886,4.3),(888,3.0),(890,3.8),(892,4.6),(894,3.3),(896,2.6),(898,4.0),(900,3.4),(902,4.4),(904,2.9),(906,3.7),(908,4.8),(910,3.2),(912,3.9),(914,2.8),(916,3.6),(918,4.3),(920,3.1),(922,4.0),(924,3.5),(926,4.7),(928,3.3),(930,4.2),(932,3.7),(934,5.0),(936,3.9),(938,4.5),(940,3.4),(942,4.8),(944,3.8),(946,5.3),(948,6.38),(949,6.1),(950,4.4),(952,3.6),(954,4.9),(956,3.2),(958,4.2),(960,3.5),(962,2.6),(964,1.34),(966,3.8),(968,4.5),(970,3.3),(972,4.1),(974,2.9),(976,3.7),(978,4.6),(980,3.2),(982,3.9),(984,2.7),(986,3.5),(988,4.3),(990,3.0),(992,5.2),(994,3.8),(996,4.4),(998,3.1),(1000,4.0),(1002,3.4),(1004,4.7),
 (1006,3.2),(1008,4.1),(1010,2.8),(1012,3.5),(1014,4.3),(1016,3.0),(1018,3.7),(1020,2.7),(1022,3.4),(1024,4.0),(1026,5.2),(1028,3.1),(1030,3.8),(1032,2.6),(1034,3.3),(1036,2.9),(1038,3.6),(1040,2.4),(1042,3.1),(1044,2.7),(1046,3.3),(1048,1.8),(1050,2.5),(1052,3.0),(1054,2.2),(1056,2.8),(1058,3.5),(1060,2.6),(1062,3.3),(1064,4.0),(1066,4.8),(1068,5.6),(1070,4.4),(1072,3.7),(1074,4.5),(1076,1.0),(1077,1.15),(1078,3.2),(1080,2.6),(1082,3.5),(1084,2.1),(1086,3.0),(1088,1.8),(1090,3.3),(1092,2.5),(1094,3.8),(1096,3.0),(1098,3.6),(1100,2.8),(1102,4.0),(1104,3.3),(1106,2.5),(1108,3.8),(1110,3.1),(1112,4.2),(1114,3.5),(1116,2.7),(1118,3.9),(1120,3.2),(1122,4.4),(1124,3.6),(1126,2.9),(1128,4.1),(1130,3.4),(1132,4.6),(1134,3.8),(1136,3.1),(1138,4.3),(1140,3.6),(1142,4.8),(1144,3.9),(1146,3.2),(1148,4.5),(1150,3.7),(1152,5.0),(1154,4.1),(1156,3.4),(1158,4.6),(1160,5.6),(1162,5.95),(1164,4.2),(1166,3.5),(1168,4.7),(1170,3.9),(1172,3.2),(1174,4.4),(1176,3.6),(1178,2.9),(1180,4.1),(1182,3.4),(1184,4.6),(1186,3.0),(1188,3.8),(1190,2.7),(1192,3.5),(1194,4.2),(1196,3.1),(1198,3.8),(1200,2.4),(1202,3.3),(1204,4.0),(1206,3.0),(1208,2.2),(1210,3.6),(1212,4.4),(1214,3.5),(1216,4.9),(1218,4.2),(1220,5.3),(1222,6.1),(1224,4.7),(1226,3.9),(1228,4.5),(1230,3.6),(1232,4.3),(1234,3.1),(1236,3.8),(1238,2.9),(1240,3.5),(1242,2.6),(1244,3.3),(1246,1.77),(1248,2.9),(1250,1.3),(1252,3.4),(1254,3.9),(1256,4.5),(1258,3.7),(1260,5.0),(1262,4.3),(1264,5.4),(1266,4.6),(1268,3.9),(1270,5.1),(1272,4.4),(1274,5.6),(1276,4.8),(1278,4.1),(1280,5.3),(1282,4.6),(1284,3.8),(1286,5.0),(1288,4.3),(1290,5.5),(1292,6.22),(1294,5.2),(1296,4.5),(1298,5.7),(1300,4.9),(1302,4.2),(1304,5.4),(1306,4.7),(1308,3.9),(1310,5.1),(1312,4.4),(1314,3.6),(1316,4.8),(1318,4.0),(1320,3.3),(1322,4.5),(1324,3.7),(1326,2.9),(1328,4.2),(1330,3.5),(1332,4.7),(1334,3.8),(1336,3.1),(1338,4.3),(1340,3.6),(1342,2.7),(1344,4.0),(1346,3.3),(1348,2.2),(1350,3.8),(1352,4.6),(1354,3.4),(1356,4.1),(1358,5.0),(1360,4.3),(1362,3.6),(1364,4.8),(1366,5.7),(1368,5.68),(1370,4.5),(1372,3.8),(1374,5.0),(1376,4.2),(1378,3.5),(1380,4.7),(1382,3.9),(1384,5.2),(1386,4.4),(1388,3.7),(1390,4.9),(1392,4.1),(1394,5.3),(1396,4.6),(1398,3.8),(1400,4.3),(1402,3.5),(1404,4.7),(1406,3.9),(1408,4.5),(1410,3.6),(1412,4.8),(1414,4.0),(1416,5.1),(1418,6.45),(1420,4.4),(1422,3.6),(1424,4.8),(1426,3.9),(1428,4.5),(1430,3.7),(1432,5.0),(1434,4.2),(1436,3.4),(1438,4.6),(1440,3.8),(1442,4.9),(1444,4.1),(1446,3.5),(1448,4.4),(1450,3.7),(1452,5.0),(1454,4.2),(1456,3.4),(1458,4.6),(1460,3.8),(1462,3.0),(1464,2.6),(1466,2.3),(1468,2.0),(1470,2.9),(1472,3.4),(1474,2.5),(1476,3.9),(1478,4.6),(1480,3.6),(1482,4.3),(1484,5.0),(1486,4.1),(1488,3.3),(1490,4.5),(1492,3.7),(1494,5.6),(1496,4.8),(1498,4.0),(1500,3.2),
]

# Panel B: SST uncertainty envelope (age, lower, upper)
SST_BAND = [
 (0,0.6,1.8),(10,0.3,1.4),(20,-0.2,1.0),(30,-0.3,0.9),(40,-0.2,1.1),(50,-0.3,1.0),(60,-0.1,1.2),(70,-0.3,0.9),(80,0.0,1.3),(90,0.2,1.5),(100,0.6,2.0),(110,1.0,2.4),(118,1.4,2.8),(125,1.8,3.3),(128,2.0,3.7),(132,1.0,2.6),(136,0.0,1.2),(145,-0.5,0.5),(160,-0.7,0.4),(175,-0.7,0.5),(190,-0.3,0.9),(205,0.0,1.1),(220,0.0,1.0),(232,0.4,1.6),(240,1.0,2.3),(248,0.2,1.2),(255,-0.7,0.6),(270,-0.9,0.3),(285,-0.8,0.4),(295,-1.1,-0.3),(310,-1.2,-0.4),(322,-1.2,-0.3),(328,-0.5,0.8),(332,0.5,3.5),(334,1.0,7.3),(336,0.5,4.0),(338,-0.2,1.2),(345,-0.5,0.8),(360,-0.6,0.6),(375,-0.5,0.7),(390,-0.4,0.8),(396,-2.6,1.0),(398,-2.6,6.7),(400,-1.0,5.8),(402,0.5,2.5),(408,1.0,2.8),(420,1.2,2.6),(430,0.6,2.1),(440,0.4,1.8),(455,0.6,2.0),(470,0.5,1.9),(485,0.7,2.0),(500,0.9,2.2),(515,1.0,2.4),(530,0.6,2.0),(545,0.3,1.7),(560,0.8,2.0),(570,1.5,2.9),(576,2.2,3.8),(582,1.2,2.6),(595,1.0,2.4),(605,1.4,2.8),(613,2.4,4.7),(620,1.6,3.0),(630,0.8,2.0),(640,0.6,1.9),(650,1.5,3.0),(660,2.0,3.4),(670,1.6,3.0),(680,2.1,3.4),(688,2.6,4.2),(692,3.0,5.2),(696,2.4,3.8),(705,2.0,3.5),(720,2.2,3.6),(735,2.1,3.5),(750,2.0,3.4),(762,1.8,3.3),(770,2.0,3.6),(778,2.8,4.3),(785,3.0,5.4),(795,2.8,4.5),(810,3.0,4.5),(825,2.7,4.6),(840,2.9,4.6),(852,3.1,4.8),(858,3.3,5.8),(864,1.9,3.5),(870,2.6,4.0),(885,3.0,4.3),(900,3.0,4.5),(915,3.0,4.3),(930,3.3,4.7),(942,3.6,5.0),(948,3.5,6.9),(952,3.5,5.0),(965,2.7,4.2),(980,3.0,4.5),(995,3.0,4.4),(1010,3.0,4.3),(1025,3.1,4.4),(1040,2.8,3.8),(1052,2.3,3.2),(1062,2.9,4.2),(1068,3.5,5.4),(1074,3.0,4.5),(1082,2.2,3.4),(1092,2.6,3.8),(1105,2.9,4.2),(1120,3.1,4.5),(1135,3.3,4.8),(1150,3.6,5.2),(1160,3.8,5.6),(1170,3.4,4.8),(1185,3.2,4.5),(1198,2.8,4.0),(1208,3.2,4.6),(1218,3.9,5.6),(1222,4.2,6.1),(1230,3.6,4.8),(1242,2.6,3.9),(1250,2.7,3.9),(1262,3.8,5.2),(1275,4.3,5.6),(1290,4.4,6.0),(1300,4.2,5.7),(1312,3.8,5.1),(1325,3.3,4.6),(1340,3.0,4.3),(1352,3.3,4.8),(1366,4.0,5.6),(1380,3.8,5.2),(1395,3.9,5.3),(1405,3.6,4.8),(1416,4.0,5.8),(1418,4.2,6.7),(1422,3.7,5.0),(1440,3.5,4.9),(1455,3.4,4.8),(1465,2.2,3.4),(1475,2.6,3.8),(1485,3.5,4.8),(1495,3.3,5.2),(1500,3.0,4.4),
]

# Modern SST (star) at core top
STAR_AGE = [0]
STAR_SST = [1.73]

# Reference dashed lines in panel A: (age start, age end, d18O)
DASH_LINES = [(42, 526, 5.32), (923, 1494, 4.88)]

# MIS glacial stages highlighted (centre age, ka) and labels
MIS_CENTERS = [633, 878]
MIS_LABELS = ['MIS 16', 'MIS 22']

AGE_TICKS = [0, 200, 400, 600, 800, 1000, 1200, 1400]
A_TICKS = [2.5, 3, 3.5, 4, 4.5, 5, 5.5]
A_TICKLABELS = ['2.5', '3', '3.5', '4', '4.5', '5', '5.5']
B_LEFT_TICKS = [-12, -9, -6, -3, 0, 3, 6]
B_RIGHT_TICKS = [-2, 0, 2, 4, 6]

sur_age, sur_val = map(list, zip(*SURFACE_D18O))
bot_age, bot_val = map(list, zip(*BOTTOM_D18O))
epi_age, epi_val = map(list, zip(*EPICA_T))
sst_age, sst_val = map(list, zip(*SST_POINTS))
band_age, band_lo, band_hi = map(list, zip(*SST_BAND))

# ---------------- FIGURE ----------------
RED = '#e31e24'
BLUE = '#3467a5'
W, H = 2197, 1432
fig = plt.figure(figsize=(W / 100, H / 100), dpi=100)
L_PX, R_PX, T_PX, B_PX = 266, 2032, 136, 1432
rect = [L_PX / W, 1 - B_PX / H, (R_PX - L_PX) / W, (B_PX - T_PX) / H]

# background axes for MIS bands (soft grey gradient)
ax0 = fig.add_axes(rect)
for c in MIS_CENTERS:
    xs = np.linspace(c - 36, c + 36, 400)
    g = 1 - 0.33 * np.exp(-((xs - c) / 17.0) ** 2)
    ax0.imshow(np.tile(g, (2, 1)), extent=[c - 36, c + 36, 0, 1], aspect='auto',
               cmap='gray', vmin=0, vmax=1, interpolation='bilinear', zorder=0)
ax0.set_xlim(0, 1500)
ax0.set_ylim(0, 1)
ax0.axis('off')

# ---- Panel A ----
axA = fig.add_axes(rect, facecolor='none')
axA.set_xlim(0, 1500)
axA.set_ylim(9.881, 2.1667)
for a0, a1, yv in DASH_LINES:
    axA.plot([a0, a1], [yv, yv], color='#a9a9a9', lw=3.2, ls=(0, (2.4, 2.9)), zorder=1)
axA.plot(sur_age, sur_val, '-o', color=RED, lw=1.6, ms=8.5, mec=RED, mew=0.5, zorder=2, clip_on=False)
axA.plot(bot_age, bot_val, '-o', color='black', lw=1.6, ms=8.5, mec='black', mew=0.5, zorder=3, clip_on=False)

axA.xaxis.set_ticks_position('top')
axA.set_xticks(AGE_TICKS)
axA.set_xticklabels([str(t) for t in AGE_TICKS])
axA.set_xticks(list(range(100, 1501, 200)), minor=True)
axA.tick_params(axis='x', which='major', direction='out', length=17, width=2.4, labelsize=27, pad=6,
                top=True, labeltop=True, bottom=False, labelbottom=False)
axA.tick_params(axis='x', which='minor', direction='out', length=9, width=2.4, top=True, bottom=False)
axA.set_yticks(A_TICKS)
axA.set_yticklabels(A_TICKLABELS)
axA.set_yticks([2.75, 3.25, 3.75, 4.25, 4.75, 5.25, 5.75], minor=True)
axA.tick_params(axis='y', which='major', direction='out', length=17, width=2.4, labelsize=27, pad=18)
axA.tick_params(axis='y', which='minor', direction='out', length=9, width=2.4)
axA.spines['top'].set_linewidth(3)
axA.spines['left'].set_linewidth(3)
axA.spines['left'].set_bounds(5.75, 2.1667)
axA.spines['right'].set_visible(False)
axA.spines['bottom'].set_visible(False)

# ---- Panel B ----
axB = fig.add_axes(rect, facecolor='none')
axB.set_xlim(0, 1500)
axB.set_ylim(-13.135, 28.90)
axB.plot(epi_age, epi_val, color=BLUE, lw=8.5, solid_joinstyle='round', solid_capstyle='round', zorder=2)
axB.set_yticks(B_LEFT_TICKS)
axB.set_yticklabels([str(t) for t in B_LEFT_TICKS])
axB.set_yticks([-10.5, -7.5, -4.5, -1.5, 1.5, 4.5], minor=True)
axB.tick_params(axis='y', which='major', direction='out', length=17, width=2.4, labelsize=27, pad=18,
                color=BLUE)
axB.tick_params(axis='y', which='minor', direction='out', length=9, width=2.4, color=BLUE)
axB.set_xticks([])
axB.spines['left'].set_bounds(-12, 6)
axB.spines['left'].set_color(BLUE)
axB.spines['left'].set_linewidth(3)
for s in ['top', 'right', 'bottom']:
    axB.spines[s].set_visible(False)

axR = axB.twinx()
axR.set_xlim(0, 1500)
axR.set_ylim(-2.976, 14.838)
axR.fill_between(band_age, band_lo, band_hi, facecolor='#e8383d', alpha=0.48, lw=0, zorder=2)
axR.plot(band_age, band_lo, color='#e0474c', lw=1.0, alpha=0.8, zorder=2)
axR.plot(band_age, band_hi, color='#e0474c', lw=1.0, alpha=0.8, zorder=2)
axR.plot(sst_age, sst_val, 'o', color=RED, ms=8.5, mec=RED, zorder=3)
axR.plot(STAR_AGE, STAR_SST, '*', ms=58, mfc=RED, mec='black', mew=1.6, zorder=6, clip_on=False)
axR.set_yticks(B_RIGHT_TICKS)
axR.set_yticklabels([str(t) for t in B_RIGHT_TICKS])
axR.set_yticks([-1, 1, 3, 5], minor=True)
axR.tick_params(axis='y', which='major', direction='out', length=15, width=2.4, labelsize=27, pad=8,
                color=RED)
axR.tick_params(axis='y', which='minor', direction='out', length=8, width=2.4, color=RED)
axR.spines['right'].set_bounds(-2, 6)
axR.spines['right'].set_color(RED)
axR.spines['right'].set_linewidth(3)
for s in ['top', 'left', 'bottom']:
    axR.spines[s].set_visible(False)

# ---- Text ----
def fx(p): return p / W
def fy(p): return 1 - p / H

fig.text(fx(1149), fy(38), 'Age (ka)', ha='center', va='center', fontsize=34)
fig.text(fx(53), fy(450), 'ODP 1094 δ$^{18}$O$_{\\mathrm{C}}$', rotation=90, ha='center', va='center', fontsize=31)
fig.text(fx(115), fy(450), '(‰ vs. VPDB)', rotation=90, ha='center', va='center', fontsize=31)
fig.text(fx(53), fy(1110), 'EPICA Dome C', rotation=90, ha='center', va='center', fontsize=33)
fig.text(fx(113), fy(1120), 'Antarctic temperature (°C)', rotation=90, ha='center', va='center', fontsize=33)
fig.text(fx(2169), fy(1085), 'ODP 1094 Mg/Ca SST (°C)', rotation=90, ha='center', va='center', fontsize=35)
fig.text(fx(311), fy(192), 'A', ha='center', va='center', fontsize=46, fontweight='bold')
fig.text(fx(311), fy(869), 'B', ha='center', va='center', fontsize=46, fontweight='bold')
fig.text(fx(957), fy(759), MIS_LABELS[0], rotation=90, ha='center', va='center', fontsize=22,
         fontweight='bold', color='#8a8a8a')
fig.text(fx(1251), fy(647), MIS_LABELS[1], rotation=90, ha='center', va='center', fontsize=22,
         fontweight='bold', color='#8a8a8a')

# ---- Legend (blurred markers) ----
axL = fig.add_axes([0, 0, 1, 1], facecolor='none')
axL.set_xlim(0, W)
axL.set_ylim(H, 0)
axL.axis('off')
for (cy, col) in [(1345, (0.90, 0.12, 0.14)), (1397, (0.05, 0.05, 0.05))]:
    for s, a in [(1500, 0.06), (1100, 0.10), (800, 0.16), (550, 0.25), (330, 0.4), (160, 0.6), (60, 0.8)]:
        axL.scatter([1384], [cy], s=s, color=col, alpha=a, lw=0)
fig.text(fx(1436), fy(1345), 'ODP 1094 surface water', ha='left', va='center', fontsize=35,
         fontweight='bold', color=RED)
fig.text(fx(1436), fy(1397), 'ODP 1094 bottom water', ha='left', va='center', fontsize=35,
         fontweight='bold', color='#111111')

fig.savefig('out.png', dpi=100)
